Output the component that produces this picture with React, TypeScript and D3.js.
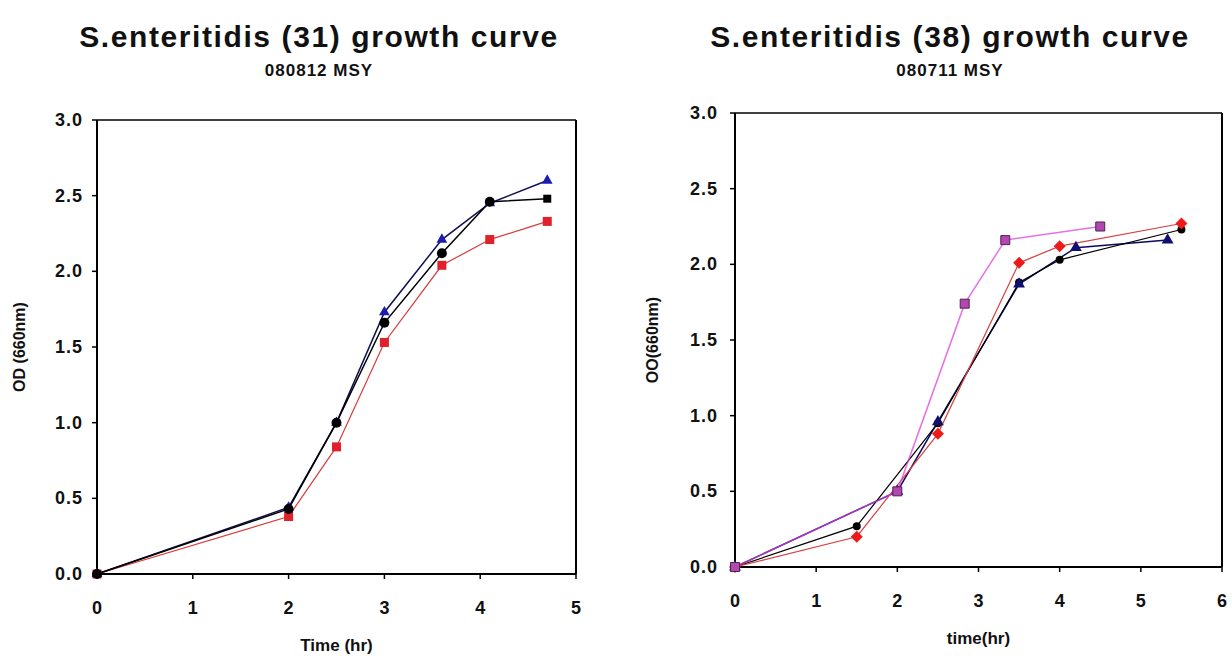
import React from "react";
import * as d3 from "d3";

// ---- Data: S.enteritidis (31) ----
const s31Times = [0, 2, 2.5, 3, 3.6, 4.1, 4.7];
const s31Blue = [0, 0.44, 1.0, 1.73, 2.21, 2.45, 2.6];
const s31Black = [0, 0.43, 1.0, 1.66, 2.12, 2.46, 2.48];
const s31Red = [0, 0.38, 0.84, 1.53, 2.04, 2.21, 2.33];
const s31XTicks = [0, 1, 2, 3, 4, 5];

// ---- Data: S.enteritidis (38) ----
const s38BlackTimes = [0, 1.5, 2.5, 3.5, 4, 5.5];
const s38Black = [0, 0.27, 0.95, 1.88, 2.03, 2.23];
const s38RedTimes = [0, 1.5, 2.5, 3.5, 4, 5.5];
const s38Red = [0, 0.2, 0.88, 2.01, 2.12, 2.27];
const s38BlueTimes = [0, 2, 2.5, 3.5, 4.2, 5.33];
const s38Blue = [0, 0.5, 0.96, 1.87, 2.11, 2.16];
const s38PurpleTimes = [0, 2, 2.83, 3.33, 4.5];
const s38Purple = [0, 0.5, 1.74, 2.16, 2.25];
const s38XTicks = [0, 1, 2, 3, 4, 5, 6];

const yTicks = [0, 0.5, 1, 1.5, 2, 2.5, 3];

const FONT = "'Liberation Sans', Arial, sans-serif";

type Series = {
  xs: number[];
  ys: number[];
  line: string;
  lineWidth: number;
  lineOpacity?: number;
  marker: "square" | "triangle" | "diamond" | "circle";
  fill: string;
  stroke?: string;
  size: number;
  lastMarker?: "square";
};

type ChartProps = {
  title: string;
  subtitle: string;
  titleX: number;
  x0: number;
  x1: number;
  yTop: number;
  yBottom: number;
  xMax: number;
  xTicks: number[];
  xTitle: string;
  yTitle: string;
  xTitleY: number;
  yTitleX: number;
  yTitleY: number;
  xLabelY: number;
  yLabelEnd: number;
  series: Series[];
  markerOrder: number[];
};

function markerPath(kind: string, size: number) {
  if (kind === "diamond") {
    const r = size / 2;
    return `M0,${-r}L${r},0L0,${r}L${-r},0Z`;
  }
  const t = kind === "square" ? d3.symbolSquare : kind === "triangle" ? d3.symbolTriangle : d3.symbolCircle;
  const area = kind === "square" ? size * size : kind === "triangle" ? size * size * 0.5 : size * size * 0.78;
  return d3.symbol().type(t).size(area)() as string;
}

function Chart(p: ChartProps) {
  const x = d3.scaleLinear().domain([0, p.xMax]).range([p.x0, p.x1]);
  const y = d3.scaleLinear().domain([0, 3]).range([p.yBottom, p.yTop]);
  const lineGen = d3
    .line<[number, number]>()
    .x((d) => x(d[0]))
    .y((d) => y(d[1]));
  return (
    <g>
      <text x={p.titleX} y={47} textAnchor="middle" fontFamily={FONT} fontWeight="bold" fontSize={30} letterSpacing={1.6} fill="#111">
        {p.title}
      </text>
      <text x={p.titleX} y={76} textAnchor="middle" fontFamily={FONT} fontWeight="bold" fontSize={17} letterSpacing={1} fill="#111">
        {p.subtitle}
      </text>
      {/* frame */}
      <line x1={p.x0} x2={p.x1} y1={p.yTop} y2={p.yTop} stroke="#000" strokeWidth={1.5} />
      <line x1={p.x1} x2={p.x1} y1={p.yTop} y2={p.yBottom} stroke="#000" strokeWidth={2} />
      <line x1={p.x0} x2={p.x1} y1={p.yBottom} y2={p.yBottom} stroke="#000" strokeWidth={2} />
      <line x1={p.x0} x2={p.x0} y1={p.yTop} y2={p.yBottom} stroke="#000" strokeWidth={2} />
      {yTicks.map((t) => (
        <g key={"y" + t}>
          <line x1={p.x0 - 5} x2={p.x0} y1={y(t)} y2={y(t)} stroke="#000" strokeWidth={1.5} />
          <text x={p.yLabelEnd} y={y(t) + 6} textAnchor="end" fontFamily={FONT} fontWeight="bold" fontSize={18} letterSpacing={1} fill="#111">
            {t.toFixed(1)}
          </text>
        </g>
      ))}
      {p.xTicks.map((t) => (
        <g key={"x" + t}>
          <line x1={x(t)} x2={x(t)} y1={p.yBottom} y2={p.yBottom + 5} stroke="#000" strokeWidth={1.5} />
          <text x={x(t)} y={p.xLabelY} textAnchor="middle" fontFamily={FONT} fontWeight="bold" fontSize={18} fill="#111">
            {t}
          </text>
        </g>
      ))}
      <text x={(p.x0 + p.x1) / 2} y={p.xTitleY} textAnchor="middle" fontFamily={FONT} fontWeight="bold" fontSize={17} fill="#111">
        {p.xTitle}
      </text>
      <text
        transform={`translate(${p.yTitleX},${p.yTitleY}) rotate(-90)`}
        textAnchor="middle"
        fontFamily={FONT}
        fontWeight="bold"
        fontSize={16}
        fill="#111"
      >
        {p.yTitle}
      </text>
      {p.series.map((s, i) => {
        const pts = s.xs.map((v, j) => [v, s.ys[j]] as [number, number]);
        return (
          <path
            key={"l" + i}
            d={lineGen(pts) as string}
            fill="none"
            stroke={s.line}
            strokeOpacity={s.lineOpacity ?? 1}
            strokeWidth={s.lineWidth}
          />
        );
      })}
      {p.markerOrder.map((i) => {
        const s = p.series[i];
        return (
          <g key={"m" + i}>
            {s.xs.map((v, j) => {
              const kind = s.lastMarker && j === s.xs.length - 1 ? s.lastMarker : s.marker;
              const sz = kind === "square" && s.marker !== "square" ? 8 : s.size;
              return (
                <path
                  key={j}
                  d={markerPath(kind, sz)}
                  transform={`translate(${x(v)},${y(s.ys[j])})`}
                  fill={s.fill}
                  stroke={s.stroke || "none"}
                  strokeWidth={1}
                />
              );
            })}
          </g>
        );
      })}
    </g>
  );
}

export default function App() {
  const left: ChartProps = {
    title: "S.enteritidis (31) growth curve",
    subtitle: "080812 MSY",
    titleX: 319,
    x0: 97,
    x1: 576,
    yTop: 120,
    yBottom: 574,
    xMax: 5,
    xTicks: s31XTicks,
    xTitle: "Time (hr)",
    yTitle: "OD (660nm)",
    xTitleY: 651,
    yTitleX: 25,
    yTitleY: 347,
    xLabelY: 614,
    yLabelEnd: 83,
    series: [
      { xs: s31Times, ys: s31Red, line: "#d83a3a", lineWidth: 1.2, marker: "square", fill: "#e0202a", size: 9 },
      { xs: s31Times, ys: s31Blue, line: "#101050", lineWidth: 1.5, marker: "triangle", fill: "#1c1cb0", size: 10 },
      { xs: s31Times, ys: s31Black, line: "#000", lineWidth: 1.5, marker: "circle", fill: "#000", size: 10, lastMarker: "square" },
    ],
    markerOrder: [0, 1, 2],
  };
  const right: ChartProps = {
    title: "S.enteritidis (38) growth curve",
    subtitle: "080711 MSY",
    titleX: 950,
    x0: 735,
    x1: 1222,
    yTop: 113,
    yBottom: 567,
    xMax: 6,
    xTicks: s38XTicks,
    xTitle: "time(hr)",
    yTitle: "OO(660nm)",
    xTitleY: 644,
    yTitleX: 658,
    yTitleY: 340,
    xLabelY: 607,
    yLabelEnd: 718,
    series: [
      { xs: s38BlueTimes, ys: s38Blue, line: "#0a0a60", lineWidth: 1.5, marker: "triangle", fill: "#101070", size: 11 },
      { xs: s38BlackTimes, ys: s38Black, line: "#000", lineWidth: 1.2, marker: "circle", fill: "#000", size: 8 },
      { xs: s38RedTimes, ys: s38Red, line: "#d84040", lineWidth: 1.2, marker: "diamond", fill: "#ee1a1a", size: 12 },
      { xs: s38PurpleTimes, ys: s38Purple, line: "#dd40dd", lineWidth: 1.5, lineOpacity: 0.75, marker: "square", fill: "#b048b0", stroke: "#502050", size: 9 },
    ],
    markerOrder: [1, 2, 0, 3],
  };
  return (
    <div style={{ position: "absolute", left: 0, top: 0, width: 1232, height: 657, background: "#fff" }}>
      <svg width={1232} height={657} style={{ display: "block" }}>
        <rect x={0} y={0} width={1232} height={657} fill="#fff" />
        <Chart {...left} />
        <Chart {...right} />
      </svg>
    </div>
  );
}
